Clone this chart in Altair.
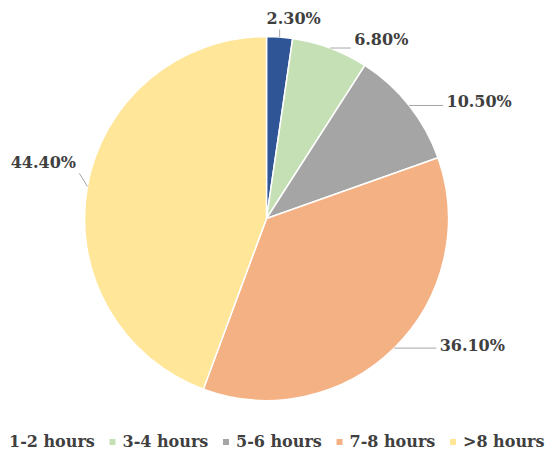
import altair as alt
import pandas as pd

# ---- data ----
categories = ["1-2 hours", "3-4 hours", "5-6 hours", "7-8 hours", ">8 hours"]
shares = [2.3, 6.8, 10.5, 36.1, 44.4]
labels = ["2.30%", "6.80%", "10.50%", "36.10%", "44.40%"]

# ---- style ----
colors = ["#2F5597", "#C5E0B4", "#A5A5A5", "#F4B183", "#FFE699"]
# label nudges (px) from each slice's outer-edge point at its mid-angle
label_nudge = {
    "1-2 hours": (14, -17.5),
    "3-4 hours": (51, -8),
    "5-6 hours": (70, -3),
    "7-8 hours": (78, -2),
    ">8 hours": (-44, -23),
}

W, H = 517, 421
R = 182
FONT = "DejaVu Serif"
TXT = "#404040"

df = pd.DataFrame({"cat": categories, "share": shares, "label": labels})
df["idx"] = range(len(df))
df["ndx"] = [label_nudge[c][0] for c in categories]
df["ndy"] = [label_nudge[c][1] for c in categories]

base = alt.Chart(df)

arc = base.mark_arc(outerRadius=R, stroke="white", strokeWidth=1.5).encode(
    theta=alt.Theta("share:Q", stack=True),
    order=alt.Order("idx:O"),
    color=alt.Color(
        "cat:N",
        sort=categories,
        scale=alt.Scale(domain=categories, range=colors),
        title=None,
        legend=alt.Legend(
            orient="none",
            legendX=-17,
            legendY=426,
            direction="horizontal",
            columns=5,
            symbolType="square",
            symbolSize=36,
            symbolStrokeWidth=0,
            labelFont=FONT,
            labelFontWeight="bold",
            labelFontSize=16,
            labelColor=TXT,
            labelOffset=2,
            columnPadding=9.5,
            padding=0,
            labelLimit=0,
        ),
    ),
)

geo = (
    base.transform_joinaggregate(total="sum(share)")
    .transform_window(cum="sum(share)", sort=[alt.SortField("idx")], frame=[None, 0])
    .transform_calculate(mid="2*PI*(datum.cum - datum.share/2)/datum.total")
    .transform_calculate(ex=f"{W/2} + {R}*sin(datum.mid)")
    .transform_calculate(ey=f"{H/2} - {R}*cos(datum.mid)")
    .transform_calculate(lx="datum.ex + datum.ndx")
    .transform_calculate(ly="datum.ey + datum.ndy")
    .transform_calculate(hw="length(datum.label)*5.5 + 3")
    .transform_calculate(tx="datum.lx - (datum.ndx >= 0 ? 1 : -1)*min(abs(datum.ndx), datum.hw)")
    .transform_calculate(ty="datum.ly - (datum.ndy >= 0 ? 1 : -1)*min(abs(datum.ndy), 10)")
)

leaders = geo.mark_rule(color="#A6A6A6", strokeWidth=1).encode(
    x=alt.X("ex:Q", scale=None, axis=None),
    y=alt.Y("ey:Q", scale=None, axis=None),
    x2="tx:Q",
    y2="ty:Q",
)

texts = geo.mark_text(
    font=FONT, fontWeight="bold", fontSize=16, color=TXT, align="center", baseline="middle"
).encode(
    x=alt.X("lx:Q", scale=None, axis=None),
    y=alt.Y("ly:Q", scale=None, axis=None),
    text="label:N",
)

chart = (
    alt.layer(arc, leaders, texts)
    .properties(
        width=W,
        height=H,
        autosize=alt.AutoSizeParams(type="none"),
        padding={"left": 0, "top": 0, "right": 27, "bottom": 22},
        background="white",
    )
    .configure_view(stroke=None)
)

chart.save("out.html", embed_options={"renderer": "svg", "actions": False})
